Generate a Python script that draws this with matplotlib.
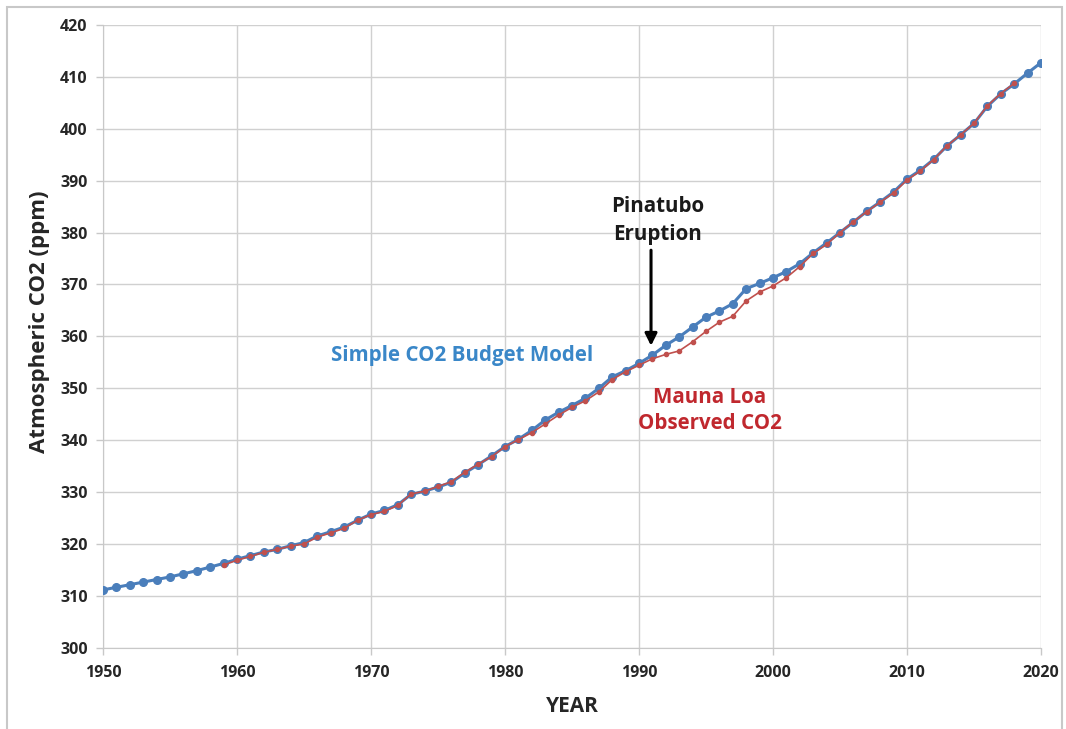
import matplotlib
matplotlib.use('Agg')
import matplotlib.pyplot as plt
from matplotlib.patches import Rectangle

plt.rcParams['font.family'] = ['Open Sans', 'DejaVu Sans']

# Modelo simple de presupuesto de CO2 (1950-2020)
years_model = list(range(1950, 2021))
co2_model = [311.2, 311.7, 312.2, 312.7, 313.2, 313.7, 314.3, 314.9, 315.6, 316.3,
             317.1, 317.8, 318.5, 319.0, 319.7, 320.3, 321.6, 322.4, 323.3, 324.6,
             325.8, 326.5, 327.6, 329.6, 330.2, 331.0, 331.9, 333.7, 335.3, 337.0,
             338.8, 340.2, 341.9, 343.9, 345.4, 346.7, 348.1, 350.0, 352.2, 353.4,
             354.8, 356.4, 358.3, 359.9, 361.8, 363.7, 364.9, 366.3, 369.2, 370.2,
             371.3, 372.5, 374.0, 376.1, 378.0, 380.0, 382.0, 384.1, 385.9, 387.8,
             390.3, 392.0, 394.1, 396.7, 398.8, 401.0, 404.3, 406.7, 408.6, 410.7,
             412.7]

# Mauna Loa observado (1959-2018)
years_obs = list(range(1959, 2019))
co2_obs = [315.98, 316.91, 317.64, 318.45, 318.99, 319.62, 320.04, 321.37, 322.18, 323.05,
           324.62, 325.68, 326.32, 327.46, 329.68, 330.19, 331.12, 332.03, 333.84, 335.41,
           336.84, 338.76, 340.12, 341.48, 343.15, 344.85, 346.35, 347.61, 349.31, 351.69,
           353.20, 354.45, 355.70, 356.54, 357.21, 358.96, 360.97, 362.74, 363.88, 366.84,
           368.54, 369.71, 371.32, 373.45, 375.98, 377.70, 379.98, 382.09, 384.02, 385.83,
           387.64, 390.10, 391.85, 394.06, 396.74, 398.81, 401.01, 404.41, 406.76, 408.72]

x_ticks = list(range(1950, 2021, 10))
y_ticks = list(range(300, 421, 10))

fig = plt.figure(figsize=(10.66, 7.29), dpi=100)
ax = fig.add_axes([0.0966, 0.111, 0.8799, 0.855])

blue = '#4A7EBB'
red = '#C0504D'

ax.plot(years_model, co2_model, color=blue, marker='o', markersize=5.5, linewidth=2.2, zorder=3)
ax.plot(years_obs, co2_obs, color=red, marker='o', markersize=3, linewidth=1.2, zorder=4)

ax.set_xlim(1950, 2020)
ax.set_ylim(300, 420)
ax.set_xticks(x_ticks)
ax.set_yticks(y_ticks)
ax.grid(True, color='#D0D0D0', linewidth=1.0)
ax.set_axisbelow(True)
for s in ['top', 'right']:
    ax.spines[s].set_visible(False)
for s in ['left', 'bottom']:
    ax.spines[s].set_color('#C8C8C8')
ax.tick_params(axis='both', colors='#C8C8C8', labelcolor='#262626', length=5, width=1)
ax.tick_params(axis='x', pad=7)
ax.tick_params(axis='y', pad=6)
for lab in ax.get_xticklabels() + ax.get_yticklabels():
    lab.set_fontweight('bold')
    lab.set_fontsize(11.5)

ax.set_xlabel('YEAR', fontsize=15, fontweight='bold', color='#262626', labelpad=11)
ax.set_ylabel('Atmospheric CO2 (ppm)', fontsize=16, fontweight='bold', color='#262626')
ax.yaxis.set_label_coords(-0.056, 0.523)

ax.text(1976.8, 356.3, 'Simple CO2 Budget Model', color='#3A87C8', fontsize=14.8,
        fontweight='bold', ha='center', va='center')
ax.text(1995.3, 345.8, 'Mauna Loa\nObserved CO2', color='#C0282E', fontsize=14.8,
        fontweight='bold', ha='center', va='center', linespacing=1.3)
ax.text(1991.4, 382.3, 'Pinatubo\nEruption', color='#1A1A1A', fontsize=14.8,
        fontweight='bold', ha='center', va='center', linespacing=1.42)
ax.annotate('', xy=(1990.9, 358.2), xytext=(1990.9, 376.6),
            arrowprops=dict(arrowstyle='-|>', color='black', lw=2.2, mutation_scale=18,
                            shrinkA=0, shrinkB=0))

fig.patches.append(Rectangle((7 / 1066, -0.02), 1055 / 1066, 1 - 7 / 729 + 0.02,
                             transform=fig.transFigure, fill=False,
                             edgecolor='#C8C8C8', linewidth=1.5))

fig.savefig('out.png', dpi=100)
